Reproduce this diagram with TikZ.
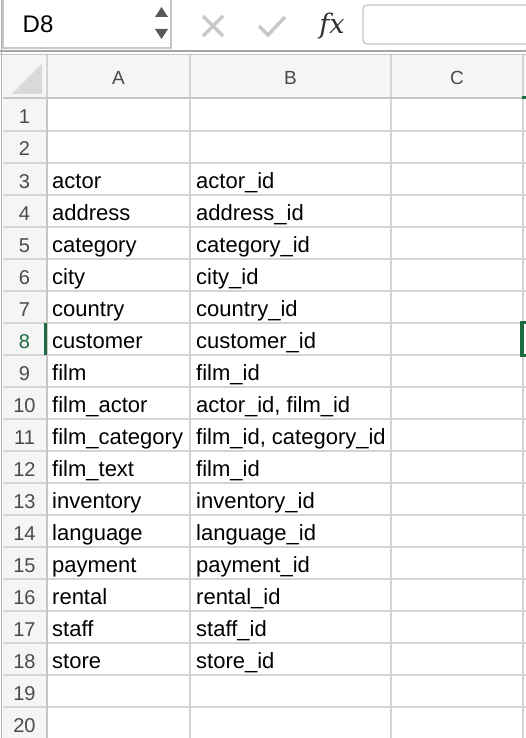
\documentclass[tikz,border=0pt]{standalone}
\usepackage{fontspec}
\setmainfont{Liberation Sans}
\newfontfamily\fxfont{DejaVu Serif}
\usepackage{xcolor}
\definecolor{gridline}{HTML}{D4D4D4}
\definecolor{hdrfill}{HTML}{F5F5F5}
\definecolor{hdrline}{HTML}{C6C6C6}
\definecolor{hdrtext}{HTML}{4A4A4A}
\definecolor{selgreen}{HTML}{1E6B40}
\definecolor{iconlight}{HTML}{C8C8C8}

\tikzset{
  cell/.style={anchor=base west, inner sep=0pt, font=\fontsize{22}{26}\selectfont},
  rownum/.style={anchor=base, inner sep=0pt, text=hdrtext, font=\fontsize{20}{24}\selectfont},
  colname/.style={anchor=base, inner sep=0pt, text=hdrtext, font=\fontsize{19}{23}\selectfont},
}

\begin{document}
\begin{tikzpicture}[x=1pt,y=-1pt]
\useasboundingbox (0,0) rectangle (526,738);
\fill[white] (0,0) rectangle (526,738);
% formula bar
\draw[hdrline,line width=1.5pt] (3,0)--(3,48)--(171,48)--(171,0);
\node[anchor=base west, inner sep=0pt, font=\fontsize{24}{28}\selectfont] (namebox) at (22.5,32.5) {D8};
\fill[black!65] (155,17)--(168,17)--(161.5,7)--cycle;
\fill[black!65] (155,29)--(168,29)--(161.5,39)--cycle;
\draw[iconlight,line width=3.5pt] (203,16)--(223,36) (203,36)--(223,16);
\draw[iconlight,line width=3.5pt] (259,26)--(268,35)--(285,17);
\node[anchor=base, inner sep=0pt, text=black!80, font=\fontsize{27}{31}\selectfont\fxfont\itshape] (fxlabel) at (332,34) {fx};
\draw[hdrline,line width=1.2pt,rounded corners=4pt] (530,5)--(363,5)--(363,44)--(530,44);
\fill[black!35] (0,50) rectangle (526,52.5);
% headers
\fill[hdrfill] (3,54) rectangle (526,98);
\fill[hdrfill] (3,98) rectangle (47,738);
\fill[black!15] (12,94)--(42,94)--(42,64)--cycle;
\draw[hdrline,line width=1pt] (0,54.5)--(526,54.5);
\draw[gridline,line width=1.2pt] (47,55)--(47,98) (190,55)--(190,98) (391,55)--(391,98) (523,55)--(523,98);
% grid
\draw[gridline,line width=1.5pt] (3,131)--(526,131) (3,163)--(526,163) (3,195)--(526,195)
  (3,227)--(526,227) (3,259)--(526,259) (3,291)--(526,291) (3,323)--(526,323)
  (3,355)--(526,355) (3,387)--(526,387) (3,419)--(526,419) (3,451)--(526,451)
  (3,483)--(526,483) (3,515)--(526,515) (3,547)--(526,547) (3,579)--(526,579)
  (3,611)--(526,611) (3,643)--(526,643) (3,675)--(526,675) (3,707)--(526,707);
\draw[gridline,line width=1.5pt] (190,98)--(190,738) (391,98)--(391,738) (523,98)--(523,738);
\draw[hdrline,line width=1.5pt] (47,98)--(47,738);
\draw[hdrline,line width=1.5pt] (3,98)--(526,98);
\draw[black!30,line width=1.5pt] (1.5,0)--(1.5,738);
% selection marks
\fill[selgreen] (43.5,323) rectangle (46.5,355);
\fill[selgreen] (520,320.5) rectangle (524,357);
\fill[selgreen] (520,320.5) rectangle (526,323.5);
\fill[selgreen] (520,354) rectangle (526,357);
\fill[selgreen] (522,96.5) rectangle (526,99.5);
% column names
\node[colname] (colA) at (118.5,85) {A};
\node[colname] (colB) at (290.5,85) {B};
\node[colname] (colC) at (457,85) {C};
% row numbers
\node[rownum] (r1) at (24.5,124) {1};
\node[rownum] (r2) at (24.5,156) {2};
\node[rownum] (r3) at (24.5,188) {3};
\node[rownum] (r4) at (24.5,220) {4};
\node[rownum] (r5) at (24.5,252) {5};
\node[rownum] (r6) at (24.5,284) {6};
\node[rownum] (r7) at (24.5,316) {7};
\node[rownum,text=selgreen] (r8) at (24.5,348) {8};
\node[rownum] (r9) at (24.5,380) {9};
\node[rownum] (r10) at (24.5,412) {10};
\node[rownum] (r11) at (24.5,444) {11};
\node[rownum] (r12) at (24.5,476) {12};
\node[rownum] (r13) at (24.5,508) {13};
\node[rownum] (r14) at (24.5,540) {14};
\node[rownum] (r15) at (24.5,572) {15};
\node[rownum] (r16) at (24.5,604) {16};
\node[rownum] (r17) at (24.5,636) {17};
\node[rownum] (r18) at (24.5,668) {18};
\node[rownum] (r19) at (24.5,700) {19};
\node[rownum] (r20) at (24.5,732) {20};
% cells
\node[cell] (a3) at (52,188) {actor};
\node[cell] (b3) at (196,188) {actor\_id};
\node[cell] (a4) at (52,220) {address};
\node[cell] (b4) at (196,220) {address\_id};
\node[cell] (a5) at (52,252) {category};
\node[cell] (b5) at (196,252) {category\_id};
\node[cell] (a6) at (52,284) {city};
\node[cell] (b6) at (196,284) {city\_id};
\node[cell] (a7) at (52,316) {country};
\node[cell] (b7) at (196,316) {country\_id};
\node[cell] (a8) at (52,348) {customer};
\node[cell] (b8) at (196,348) {customer\_id};
\node[cell] (a9) at (52,380) {film};
\node[cell] (b9) at (196,380) {film\_id};
\node[cell] (a10) at (52,412) {film\_actor};
\node[cell] (b10) at (196,412) {actor\_id, film\_id};
\node[cell] (a11) at (52,444) {film\_category};
\node[cell] (b11) at (196,444) {film\_id, category\_id};
\node[cell] (a12) at (52,476) {film\_text};
\node[cell] (b12) at (196,476) {film\_id};
\node[cell] (a13) at (52,508) {inventory};
\node[cell] (b13) at (196,508) {inventory\_id};
\node[cell] (a14) at (52,540) {language};
\node[cell] (b14) at (196,540) {language\_id};
\node[cell] (a15) at (52,572) {payment};
\node[cell] (b15) at (196,572) {payment\_id};
\node[cell] (a16) at (52,604) {rental};
\node[cell] (b16) at (196,604) {rental\_id};
\node[cell] (a17) at (52,636) {staff};
\node[cell] (b17) at (196,636) {staff\_id};
\node[cell] (a18) at (52,668) {store};
\node[cell] (b18) at (196,668) {store\_id};
\end{tikzpicture}
\end{document}
